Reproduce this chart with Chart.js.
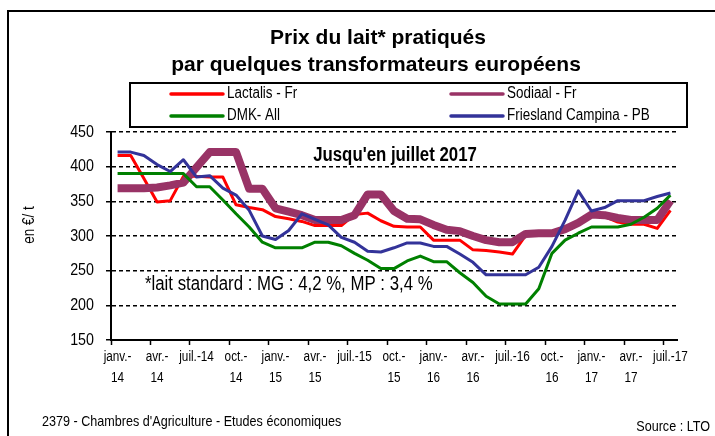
<!DOCTYPE html>
<html>
<head>
<meta charset="utf-8">
<script src="https://cdn.jsdelivr.net/npm/chart.js@4.4.1/dist/chart.umd.min.js"></script>
<style>
  html, body { margin: 0; padding: 0; background: #fff; }
  canvas { display: block; }
</style>
</head>
<body>
<canvas id="milkChart" width="715" height="436"></canvas>
<script>
// Categories : mois de janvier 2014 a juillet 2017
const months = [
  'janv.-14', 'févr.-14', 'mars-14', 'avr.-14', 'mai-14', 'juin-14', 'juil.-14', 'août-14', 'sept.-14', 'oct.-14', 'nov.-14', 'déc.-14',
  'janv.-15', 'févr.-15', 'mars-15', 'avr.-15', 'mai-15', 'juin-15', 'juil.-15', 'août-15', 'sept.-15', 'oct.-15', 'nov.-15', 'déc.-15',
  'janv.-16', 'févr.-16', 'mars-16', 'avr.-16', 'mai-16', 'juin-16', 'juil.-16', 'août-16', 'sept.-16', 'oct.-16', 'nov.-16', 'déc.-16',
  'janv.-17', 'févr.-17', 'mars-17', 'avr.-17', 'mai-17', 'juin-17', 'juil.-17'
];
// labels shown every 3 months
const tickLabels = [
  ['janv.-', '14'], ['avr.-', '14'], ['juil.-14'], ['oct.-', '14'],
  ['janv.-', '15'], ['avr.-', '15'], ['juil.-15'], ['oct.-', '15'],
  ['janv.-', '16'], ['avr.-', '16'], ['juil.-16'], ['oct.-', '16'],
  ['janv.-', '17'], ['avr.-', '17'], ['juil.-17']
];

// Prix en euros / tonne
const lactalis = [416, 416, 383, 349, 351, 386, 386, 385, 385, 345, 341, 338, 328, 325, 321,
  315, 315, 315, 331, 333, 322, 314, 313, 313, 294, 294, 294, 280, 279, 277, 274,
  301, 301, 302, 308, 318, 329, 328, 320, 317, 317, 311, 337];
const sodiaal = [369, 369, 369, 370, 373, 377, 399, 421, 421, 421, 368, 368, 340, 335, 330,
  323, 323, 323, 330, 360, 360, 336, 325, 324, 316, 309, 307, 300, 294, 291, 291,
  303, 304, 304, 310, 319, 331, 330, 326, 323, 323, 323, 351];
const dmk = [390, 390, 390, 390, 390, 390, 371, 371, 352, 332, 313, 291, 283, 283, 283,
  291, 291, 286, 275, 265, 253, 253, 264, 271, 263, 263, 247, 233, 213, 202, 202,
  202, 224, 275, 294, 304, 313, 313, 313, 317, 327, 340, 359];
const friesland = [421, 421, 416, 403, 393, 410, 385, 387, 369, 359, 337, 300, 295, 308, 332,
  324, 316, 298, 291, 278, 277, 283, 290, 290, 285, 285, 274, 262, 244, 244, 244,
  244, 255, 285, 323, 365, 336, 341, 351, 351, 351, 357, 362];

const seriesNames = ['Lactalis - Fr', 'Sodiaal - Fr', 'DMK- All', 'Friesland Campina - PB'];
const titleLines = ['Prix du lait* pratiqués', 'par quelques transformateurs européens'];

const FONT = '"Liberation Sans", Arial, sans-serif';

const ctx = document.getElementById('milkChart').getContext('2d');

// the original uses a narrow font: squeeze every text horizontally
ctx.textScaleX = 0.84;
const rawFillText = ctx.fillText.bind(ctx);
ctx.fillText = function (text, x, y) {
  this.save();
  this.translate(x, y);
  this.scale(this.textScaleX, 1);
  rawFillText(text, 0, 0);
  this.restore();
};

// titre, cadre, legende et notes
const decor = {
  id: 'decor',
  afterDraw(chart) {
    const c = chart.ctx;
    c.save();
    c.strokeStyle = '#000';
    c.fillStyle = '#000';
    c.lineWidth = 2;
    c.beginPath();
    c.moveTo(8, 436);
    c.lineTo(8, 11);
    c.lineTo(715, 11);
    c.stroke();

    c.textScaleX = 1;
    c.textAlign = 'center';
    c.textBaseline = 'alphabetic';
    c.font = 'bold 21px ' + FONT;
    c.fillText(titleLines[0], 378, 44);
    c.fillText(titleLines[1], 376, 71);
    c.textScaleX = 0.84;

    c.strokeRect(130, 83, 557, 44);
    c.textAlign = 'left';
    c.textBaseline = 'middle';
    c.font = '16px ' + FONT;
    chart.data.datasets.forEach((ds, i) => {
      const x = i % 2 ? 451 : 171;
      const y = i < 2 ? 94 : 116;
      c.strokeStyle = ds.borderColor;
      c.lineWidth = 3.5;
      c.lineCap = 'round';
      c.beginPath();
      c.moveTo(x, y);
      c.lineTo(x + 52, y);
      c.stroke();
      c.fillText(ds.label, x + 56, y);
    });

    c.textBaseline = 'alphabetic';
    c.textAlign = 'center';
    c.font = 'bold 20px ' + FONT;
    c.fillText("Jusqu'en juillet 2017", 395, 161);
    c.textAlign = 'left';
    c.font = '20px ' + FONT;
    c.fillText('*lait standard : MG : 4,2 %, MP : 3,4 %', 145, 290);

    c.font = '15px ' + FONT;
    c.fillText("2379 - Chambres d'Agriculture - Etudes économiques", 42, 426);
    c.textAlign = 'right';
    c.fillText('Source : LTO', 710, 431);

    c.translate(30, 225);
    c.rotate(-Math.PI / 2);
    c.textAlign = 'center';
    c.textBaseline = 'middle';
    c.font = '16px ' + FONT;
    c.fillText('en €/ t', 0, 0);
    c.restore();
  }
};

new Chart(ctx, {
  type: 'line',
  data: {
    labels: months,
    datasets: [{
      label: seriesNames[0],
      data: lactalis,
      borderColor: '#ff0000',
      borderWidth: 3,
      order: 4
    }, {
      label: seriesNames[1],
      data: sodiaal,
      borderColor: '#993366',
      borderWidth: 8,
      order: 3
    }, {
      label: seriesNames[2],
      data: dmk,
      borderColor: '#008000',
      borderWidth: 3,
      order: 2
    }, {
      label: seriesNames[3],
      data: friesland,
      borderColor: '#333399',
      borderWidth: 3,
      order: 1
    }]
  },
  options: {
    responsive: false,
    animation: false,
    devicePixelRatio: 1,
    layout: { padding: { top: 132, right: 38, bottom: 0, left: 0 } },
    elements: {
      point: { radius: 0 },
      line: { tension: 0, borderJoinStyle: 'round', fill: false }
    },
    plugins: {
      legend: { display: false },
      tooltip: { enabled: false },
      title: { display: false }
    },
    scales: {
      x: {
        offset: true,
        afterFit: s => { s.height = 96; },
        grid: {
          offset: true,
          drawOnChartArea: false,
          tickLength: 5,
          tickWidth: 1.5,
          color: c => (c.index % 3 === 0 ? '#000' : 'rgba(0,0,0,0)'),
          tickColor: c => (c.index % 3 === 0 ? '#000' : 'rgba(0,0,0,0)')
        },
        border: { color: '#000', width: 2 },
        ticks: {
          autoSkip: false,
          maxRotation: 0,
          minRotation: 0,
          padding: 2,
          color: '#000',
          font: { family: FONT, size: 14, lineHeight: 1.5 },
          callback: (v, i) => (i % 3 === 0 ? tickLabels[i / 3] : '')
        }
      },
      y: {
        min: 150,
        max: 450,
        afterFit: s => { s.width = 111; },
        ticks: {
          stepSize: 50,
          padding: 12,
          color: '#000',
          font: { family: FONT, size: 17 }
        },
        grid: {
          color: '#000',
          lineWidth: 1.5,
          tickLength: 5,
          tickColor: '#000'
        },
        border: {
          color: '#000',
          width: 2,
          dash: c => (c.type === 'tick' ? [4, 3] : [])
        }
      }
    }
  },
  plugins: [decor]
});
</script>
</body>
</html>
